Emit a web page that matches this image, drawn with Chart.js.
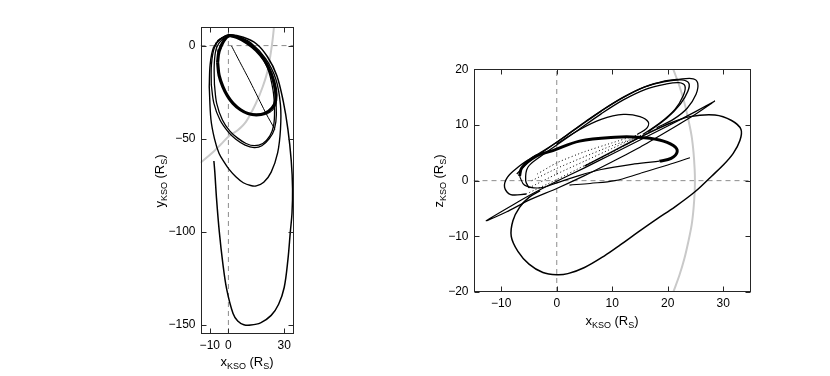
<!DOCTYPE html>
<html>
<head>
<meta charset="utf-8">
<script src="https://cdn.jsdelivr.net/npm/chart.js@4.4.1/dist/chart.umd.min.js"></script>
<style>
  html, body { margin:0; padding:0; background:#fff; }
  #wrap { position:relative; width:830px; height:376px; overflow:hidden; font-family:'Liberation Sans', Arial, Helvetica, sans-serif; }
  .cv { position:absolute; top:0; }
  .ttl { position:absolute; font-size:13px; color:#000; white-space:nowrap; line-height:16px; height:16px; text-align:center; }
  .ttl sub { font-size:9px; line-height:0; vertical-align:-3px; }
  .rot { width:60px; transform:rotate(-90deg); transform-origin:30px 8px; }
</style>
</head>
<body>
<div id="wrap">
  <canvas id="c1" class="cv" width="415" height="376" style="left:0"></canvas>
  <canvas id="c2" class="cv" width="415" height="376" style="left:415px"></canvas>
  <div class="ttl" style="left:217px; width:60px; top:354px;">x<sub>KSO</sub> (R<sub>S</sub>)</div>
  <div class="ttl" style="left:582px; width:60px; top:313px;">x<sub>KSO</sub> (R<sub>S</sub>)</div>
  <div class="ttl rot" style="left:130px; top:173px;">y<sub>KSO</sub> (R<sub>S</sub>)</div>
  <div class="ttl rot" style="left:409px; top:173px;">z<sub>KSO</sub> (R<sub>S</sub>)</div>
</div>
<script>
// ---------- tick values ----------
const xyTicksX = [-10, 0, 30];
const xyTicksY = [0, -50, -100, -150];
const xzTicksX = [-10, 0, 10, 20, 30];
const xzTicksY = [-20, -10, 0, 10, 20];

// ---------- left panel (x–y) ----------
const xyZeroV = [[0, -155], [0, 10]];
const xyZeroH = [[-15, 0], [35, 0]];
const xyBoundary = [[24.7, 12], [23.5, 1], [21.2, -13], [18.5, -22], [14.8, -31], [9.4, -41], [5, -45.5], [0.4, -48.6], [-4, -53], [-8.5, -57.5], [-15, -63]];
const xyBig = [[-6,2.5],[-2,5],[0.5,5.8],[8,4.5],[15,1],[21,-6],[26,-16],[29.5,-30],[32,-45],[33.8,-62],[34.5,-77],[34.2,-90],[33.3,-100],[32,-115],[30,-130],[27,-139],[23,-145],[17.3,-149],[12,-150.2],[8.3,-150],[5,-148],[2.5,-144],[-0.9,-131],[-3,-117],[-4.9,-100],[-6.4,-82],[-7.3,-68],[-7.8,-62]];
const xyLoop75 = [[-10.3,-22],[-9.4,-39.6],[-7.5,-50],[-5,-58],[-2,-63],[0.4,-66.5],[4,-70.5],[8,-73.7],[12,-75.2],[15,-75.4],[19,-73.5],[23,-68],[26.5,-57.5],[28,-45],[28,-32],[25.5,-18],[20,-7],[12,1.5],[5,5],[0.5,5.5],[-4.5,3.5],[-8,-1],[-9.8,-10],[-10.3,-22]];
const xyLoop55a = [[-9.2,-21],[-7.8,-31],[-4.5,-40],[0,-46.5],[4,-50.3],[9,-53.5],[13.9,-54.8],[18,-53.8],[22,-50],[24.7,-45],[25.8,-37],[25,-25],[22,-13],[16,-3],[8,3.5],[0.5,5.5],[-4,3.8],[-7.5,-1],[-9.1,-10],[-9.2,-21]];
const xyLoop55b = [[-7.5,-21],[-6.3,-31],[-3.2,-40],[0.8,-46],[4.8,-49.6],[9.5,-52.6],[14,-53.8],[18.5,-52.6],[22.3,-48.5],[24.3,-43],[24.8,-35],[24,-24],[21,-12],[15,-2.5],[8,3],[1,5],[-3.5,3.2],[-6.5,-1.5],[-7.6,-10],[-7.5,-21]];
const xyThick = [[-5.8,-9],[-5,-3],[-2.5,2.5],[0.5,5.3],[5,4.2],[10,1.5],[15,-2.5],[19.5,-8],[23,-15],[25.3,-23],[25.4,-29.5],[23.5,-33.5],[19.5,-36.5],[15,-37.2],[10.5,-36.5],[6.5,-34.5],[2.5,-31],[-0.5,-27],[-3,-22],[-5,-16],[-5.8,-9]];
const xyThin = [[1.7,-0.2],[6,-8.5],[11,-18],[16,-28],[20.5,-37],[25,-45]];
const xyThin2 = [[0.5,5.5],[7,3.8],[13,0],[18.5,-6],[22.5,-14],[25,-22],[25.8,-30],[24,-34.5],[20.5,-37]];
const xyHook = [[-7,1.5],[-5.5,-4],[-3,0.5]];

// ---------- right panel (x–z) ----------
const xzZeroV = [[0, -20], [0, 20]];
const xzZeroH = [[-15, 0], [35, 0]];
const xzBoundary = [[21,20],[22.1,17],[23,14],[23.7,11],[24.3,8],[24.65,5],[24.85,2],[24.9,0],[24.85,-2],[24.65,-5],[24.3,-8],[23.7,-11],[23,-14],[22.1,-17],[21,-20]];
const xzLower = [[5,2.6],[10,5.2],[15,7.8],[20.4,10.3],[24,11.5],[28.5,11.8],[31.5,10.8],[33.2,9.2],[33,7.2],[31.8,4.9],[30,2.8],[27.9,0.8],[24.9,-2],[21.3,-4.7],[18,-6.9],[14.7,-9.2],[11.5,-11.5],[8.6,-13.5],[5,-15.6],[2,-16.7],[0,-16.9],[-2.5,-16.5],[-5,-15],[-7,-12.7],[-8.2,-10],[-7.9,-7.2],[-6.7,-4.8],[-5,-3],[-3,-1.8]];
const xzSpike = [[28.5,14.3],[25,12.4],[20,9.8],[15,7.3],[10,4.8],[5,2.3],[0,-0.1],[-4.3,-2.3],[-8,-4.4],[-12.7,-7.2],[-9,-5.6],[-5,-3.5],[0,-1.4],[5,0.9],[10,3.4],[15,6],[20,8.9],[24.5,11.6],[28.5,14.3]];
const xzThin = [[2.3,-0.8],[6,-0.5],[10.5,0],[15,1.3],[20,2.8],[24,4.1]];
const xzUpper1 = [[-5.5,-2.4],[-8.3,-2.5],[-9.4,-1.2],[-8.9,0.6],[-7,2.4],[-5,3.8],[-3,5],[0,6.9],[4,9.7],[8,12.5],[12,15],[16,16.9],[19.5,17.8],[22.5,18.1],[23.8,17.5],[23.6,16],[22.3,13.8],[19.8,11.2],[16.5,8.8]];
const xzUpper2 = [[-5,-1.3],[-5.6,0],[-5.2,2.4],[-3,4.3],[0,6.4],[4,9.2],[8,12],[12,14.5],[16,16.4],[19.5,17.3],[22,17.6],[23.1,17],[22.8,15.3],[21.3,12.8],[18.5,10.3],[15.5,8.3]];
const xzUpper3 = [[-7.2,1.2],[-5.2,3.3],[-2,5.5],[1,7.6],[5,10.5],[10,13.8],[15,16.5],[19,17.8],[22,18.2],[24.6,18.3],[25.4,17.5],[25.1,15.5],[23.5,13],[21,11],[18,9.5]];
const xzMiddle = [[0,6.6],[4,9.1],[8,11],[12,11.9],[15,11.5],[16.5,10.5],[16.2,9.4],[14.5,8.3]];
const xzThickTop = [[-6.7,0.8],[-6.3,2.3],[-3.7,4.4],[-0.7,5.4],[4.1,7.1],[10.5,7.8],[14.7,7.8],[18.5,7.3],[21,6.3],[21.7,5.2],[20.6,4],[18.5,3.5]];
const xzThickLow = [[18.5,3.5],[14,3],[8,2],[3,0.6],[0,-0.4],[-3,-1.3],[-5.8,-0.8],[-6.7,0.8]];
const xzDot1 = [[-5.5,-2.4],[0,0.2],[5,2.7],[10,5.1],[16.5,8.6]];
const xzDot2 = [[-5,-1.3],[0,1.2],[5,3.5],[10,5.8],[15.5,8.3]];
const xzDot3 = [[-4.5,0],[0,2.2],[5,4.3],[10,6.3],[15,7.9]];
const xzDot4 = [[-3.5,1.2],[0,3.2],[5,5.2],[10,6.8],[14.5,8.2]];

// ---------- helpers ----------
const FONT = "'Liberation Sans', Arial, Helvetica, sans-serif";
function ds(pts, extra) {
  return Object.assign({
    data: pts.map(p => ({x: p[0], y: p[1]})),
    showLine: true, pointRadius: 0, pointHoverRadius: 0,
    borderColor: '#000', borderWidth: 1.3, tension: 0.35, fill: false, order: 0
  }, extra || {});
}
const zeroStyle = {borderColor: '#8c8c8c', borderWidth: 1, borderDash: [5, 4], tension: 0, order: 10};
const boundStyle = {borderColor: '#c9c9c9', borderWidth: 2, order: 9};
const dotStyle = {borderWidth: 1, borderDash: [1, 2.5], tension: 0.2};
const fmt = v => v < 0 ? '\u2212' + Math.abs(v) : String(v);

const framePlugin = {
  id: 'frame',
  afterDatasetsDraw(chart) {
    const {ctx, chartArea: a, scales: {x, y}} = chart;
    ctx.save();
    ctx.strokeStyle = '#262626';
    ctx.lineWidth = 1;
    const L = Math.round(a.left) + 0.5, R = Math.round(a.right) - 0.5;
    const T = Math.round(a.top) + 0.5, B = Math.round(a.bottom) - 0.5;
    ctx.strokeRect(L, T, R - L, B - T);
    const len = 5;
    ctx.beginPath();
    x.ticks.forEach(t => {
      const px = Math.round(x.getPixelForValue(t.value)) + 0.5;
      ctx.moveTo(px, B); ctx.lineTo(px, B - len);
      ctx.moveTo(px, T); ctx.lineTo(px, T + len);
    });
    y.ticks.forEach(t => {
      const py = Math.round(y.getPixelForValue(t.value)) + 0.5;
      ctx.moveTo(L, py); ctx.lineTo(L + len, py);
      ctx.moveTo(R, py); ctx.lineTo(R - len, py);
    });
    ctx.stroke();
    ctx.restore();
  }
};

function makeChart(id, datasets, xr, yr, xt, yt, pad, yW) {
  return new Chart(document.getElementById(id), {
    type: 'scatter',
    data: {datasets},
    plugins: [framePlugin],
    options: {
      responsive: false, animation: false, devicePixelRatio: 1,
      layout: {padding: pad},
      plugins: {legend: {display: false}, tooltip: {enabled: false}},
      events: [],
      scales: {
        x: {
          type: 'linear', position: 'bottom', min: xr[0], max: xr[1],
          afterBuildTicks: s => { s.ticks = xt.map(v => ({value: v})); },
          afterFit: s => { s.height = 24; },
          grid: {display: false, drawTicks: false}, border: {display: false},
          ticks: {callback: fmt, padding: 4, color: '#000', font: {family: FONT, size: 12}, maxRotation: 0, autoSkip: false}
        },
        y: {
          type: 'linear', position: 'left', min: yr[0], max: yr[1],
          afterBuildTicks: s => { s.ticks = yt.map(v => ({value: v})); },
          afterFit: s => { s.width = yW; },
          grid: {display: false, drawTicks: false}, border: {display: false},
          ticks: {callback: fmt, padding: 5, color: '#000', font: {family: FONT, size: 12}, autoSkip: false}
        }
      }
    }
  });
}

makeChart('c1', [
  ds(xyThick, {borderWidth: 3.2}),
  ds(xyBig, {borderWidth: 1.5}),
  ds(xyLoop75, {borderWidth: 1.4}),
  ds(xyLoop55a),
  ds(xyLoop55b),
  ds(xyThin, {borderWidth: 1, tension: 0.2}),
  ds(xyThin2, {borderWidth: 1}),
  ds(xyHook, {borderWidth: 1, tension: 0.2}),
  ds(xyBoundary, boundStyle),
  ds(xyZeroV, zeroStyle),
  ds(xyZeroH, zeroStyle)
], [-15, 35], [-155, 10], xyTicksX, xyTicksY, {left: 150.5, right: 121.5, top: 27, bottom: 18}, 50);

makeChart('c2', [
  ds(xzThickTop, {borderWidth: 3}),
  ds(xzThickLow, {borderWidth: 1.2}),
  ds(xzLower, {borderWidth: 1.5}),
  ds(xzSpike, {borderWidth: 1.2, tension: 0.2}),
  ds(xzThin, {borderWidth: 1.1}),
  ds(xzUpper1, {borderWidth: 1.4}),
  ds(xzUpper2, {borderWidth: 1.3}),
  ds(xzUpper3, {borderWidth: 1.3}),
  ds(xzMiddle, {borderWidth: 1.3}),
  ds(xzDot1, dotStyle),
  ds(xzDot2, dotStyle),
  ds(xzDot3, dotStyle),
  ds(xzDot4, dotStyle),
  ds(xzBoundary, boundStyle),
  ds(xzZeroV, zeroStyle),
  ds(xzZeroH, zeroStyle)
], [-15, 35], [-20, 20], xzTicksX, xzTicksY, {left: 18.5, right: 79, top: 69.3, bottom: 60}, 40);
</script>
</body>
</html>
